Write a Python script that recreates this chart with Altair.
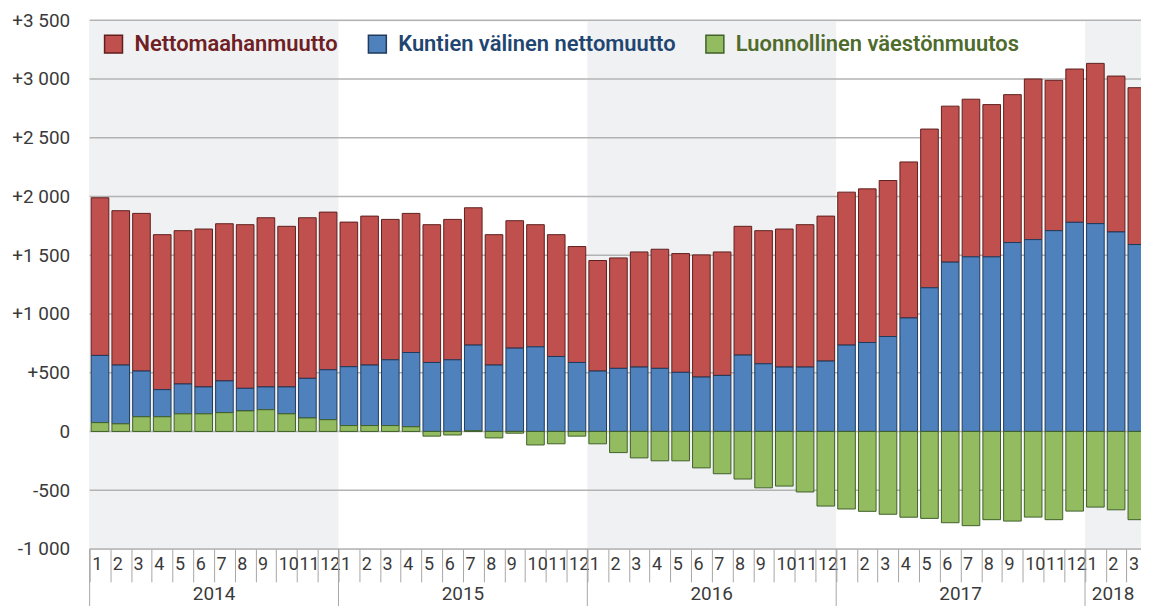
import altair as alt
import pandas as pd

# ---------------- data ----------------
years = ["2014", "2015", "2016", "2017", "2018"]
year_shaded = [True, False, True, False, True]

series_names = ["Nettomaahanmuutto", "Kuntien välinen nettomuutto", "Luonnollinen väestönmuutos"]

# Nettomaahanmuutto (net immigration), monthly 2014-01 .. 2018-03
net_immigration = [
    1342, 1314, 1342, 1319, 1305, 1344, 1338, 1393, 1440, 1367, 1367, 1342,
    1231, 1268, 1195, 1184, 1173, 1195, 1169, 1110, 1085, 1040, 1037, 987,
    941, 940, 980, 1014, 1011, 1040, 1051, 1096, 1133, 1175, 1212, 1234,
    1302, 1308, 1328, 1328, 1351, 1328, 1342, 1296, 1259, 1367, 1280, 1305,
    1364, 1327, 1335,
]
# Kuntien välinen nettomuutto (net inter-municipal migration)
inter_municipal = [
    572, 500, 389, 231, 254, 229, 270, 192, 194, 229, 337, 425,
    501, 515, 560, 632, 587, 610, 730, 565, 709, 720, 638, 587,
    514, 537, 548, 537, 503, 463, 477, 650, 576, 548, 548, 599,
    735, 757, 808, 966, 1223, 1441, 1486, 1486, 1608, 1633, 1709, 1780,
    1769, 1698, 1591,
]
# Luonnollinen väestönmuutos (natural population change)
natural_change = [
    75, 65, 125, 125, 150, 150, 160, 175, 185, 150, 115, 100,
    50, 50, 50, 40, -40, -30, 5, -55, -15, -115, -105, -40,
    -105, -180, -225, -250, -250, -310, -360, -405, -480, -465, -515, -635,
    -660, -680, -705, -730, -740, -777, -802, -751, -763, -729, -751, -678,
    -644, -667, -751,
]

y_ticks = [-1000, -500, 0, 500, 1000, 1500, 2000, 2500, 3000, 3500]

# ---------------- styling ----------------
fill_colors = ["#c0504d", "#4f81bd", "#92bc5f"]
stroke_colors = ["#5e1f1d", "#1f3a5c", "#41602a"]
label_colors = ["#6e2024", "#1f4670", "#4e6b2b"]
FONT = "Roboto"
TEXT = "#3a3a3a"
GRID = "#b3b3b3"
SEP = "#a6a6a6"

PLOT_W = 1056
PLOT_H = 531
X_MAX = 50.7  # the last month is cut at the right edge, as in the reference
TICK = 33

# ---------------- tables ----------------
n = len(net_immigration)
rows = []
for k, (name, vals) in enumerate(zip(series_names, [net_immigration, inter_municipal, natural_change])):
    for i in range(n):
        rows.append({"i": i, "series": name, "value": vals[i], "ord": 2 - k})
df = pd.DataFrame(rows)

year_df = pd.DataFrame({"year": years, "shaded": year_shaded})
year_df["start"] = [12 * k for k in range(len(years))]
year_df["end"] = (year_df["start"] + 12).clip(upper=X_MAX)
year_df["mid"] = (year_df["start"] + year_df["end"]) / 2

grid_df = pd.DataFrame({"v": y_ticks})

xs = alt.Scale(domain=[0, X_MAX], nice=False, zero=False)
ys = alt.Scale(domain=[-1000, 3500], nice=False, zero=False)

x_axis = alt.Axis(
    values=list(range(n)),
    labelExpr="'' + ((datum.value % 12) + 1)",
    labelAlign="left", labelOffset=2, labelFontSize=18, labelColor=TEXT,
    labelFont=FONT, labelPadding=7 - TICK, labelFlush=False, labelOverlap=False,
    labelBound=False, labelLimit=0,
    ticks=True, tickSize=TICK, tickColor=SEP, tickWidth=1,
    domain=False, grid=False, title=None,
)

y_axis = alt.Axis(
    values=y_ticks,
    labelExpr=(
        "(datum.value > 0 ? '+' : (datum.value < 0 ? '-' : '')) + "
        "(abs(datum.value) >= 1000 ? floor(abs(datum.value) / 1000) + ' ' + "
        "format(abs(datum.value) % 1000, '03d') : format(abs(datum.value), 'd'))"
    ),
    labelFontSize=19, labelColor=TEXT, labelFont=FONT, labelPadding=20,
    labelOverlap=False, labelFlush=False,
    ticks=False, domain=False, grid=False, title=None,
)

legend_color_expr = (
    f"datum.label == '{series_names[0]}' ? '{label_colors[0]}' : "
    f"(datum.label == '{series_names[1]}' ? '{label_colors[1]}' : '{label_colors[2]}')"
)
legend = alt.Legend(
    title=None, orient="none", legendX=13, legendY=13, direction="horizontal",
    symbolType="square", symbolSize=324, symbolStrokeWidth=1.5,
    labelFontSize=22, labelFont=FONT, labelFontWeight=600, labelOffset=10,
    columnPadding=27, padding=0, labelLimit=0,
    labelColor=alt.ExprRef(expr=legend_color_expr),
)

# ---------------- layers ----------------
bands = alt.Chart(year_df).transform_filter("datum.shaded").mark_rect(color="#f0f1f3").encode(
    x=alt.X("start:Q", scale=xs, axis=x_axis),
    x2="end:Q",
    y=alt.value(0),
    y2=alt.value(PLOT_H),
)

grid = alt.Chart(grid_df).mark_rule(color=GRID, strokeWidth=1.5).encode(
    y=alt.Y("v:Q", scale=ys, axis=y_axis),
    x=alt.value(0),
    x2=alt.value(PLOT_W),
)

bars = alt.Chart(df).transform_stack(
    stack="value", groupby=["i"], as_=["y0", "y1"],
    sort=[alt.SortField("ord", order="ascending")], offset="zero",
).transform_calculate(
    x0="datum.i + 0.075", x1="datum.i + 0.925",
).mark_rect(clip=True, strokeWidth=1).encode(
    x=alt.X("x0:Q", scale=xs, axis=x_axis),
    x2="x1:Q",
    y=alt.Y("y0:Q", scale=ys, axis=y_axis),
    y2="y1:Q",
    fill=alt.Fill("series:N", scale=alt.Scale(domain=series_names, range=fill_colors), legend=legend),
    stroke=alt.Stroke("series:N", scale=alt.Scale(domain=series_names, range=stroke_colors), legend=legend),
)

year_rules = alt.Chart(year_df).mark_rule(color=SEP, strokeWidth=1).encode(
    x=alt.X("start:Q", scale=xs, axis=x_axis),
    y=alt.value(PLOT_H),
    y2=alt.value(PLOT_H + 80),
)

year_text = alt.Chart(year_df).mark_text(
    fontSize=19, font=FONT, color=TEXT, baseline="alphabetic", align="center",
).encode(
    x=alt.X("mid:Q", scale=xs, axis=x_axis),
    y=alt.value(PLOT_H + 51),
    text="year:N",
)

chart = alt.layer(bands, grid, bars, year_rules, year_text).properties(
    width=PLOT_W,
    height=PLOT_H,
    autosize=alt.AutoSizeParams(type="none"),
    padding={"left": 82, "top": 11, "right": 0, "bottom": 56},
).configure_view(stroke=None).configure(font=FONT)

chart.save("out.html", embed_options={"renderer": "svg", "actions": False})
